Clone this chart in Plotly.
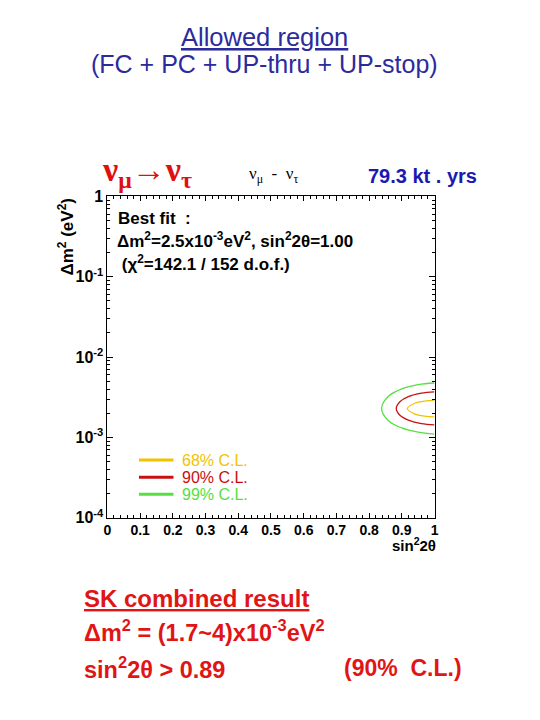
import plotly.graph_objects as go

# ---------------- data ----------------
x_ticks = [0, 0.1, 0.2, 0.3, 0.4, 0.5, 0.6, 0.7, 0.8, 0.9, 1]
x_ticktext = ["0", "0.1", "0.2", "0.3", "0.4", "0.5", "0.6", "0.7", "0.8", "0.9", "1"]
y_ticks = [1e-4, 1e-3, 1e-2, 1e-1, 1]
y_ticktext = ["10<sup>-4</sup>", "10<sup>-3</sup>", "10<sup>-2</sup>", "10<sup>-1</sup>", "1"]

# contours (sin^2 2theta, dm^2)
c99_x = [1.0, 0.95, 0.90, 0.86, 0.838, 0.86, 0.90, 0.95, 1.0]
c99_y = [4.75e-3, 4.54e-3, 4.02e-3, 3.27e-3, 2.29e-3, 1.60e-3, 1.31e-3, 1.16e-3, 1.10e-3]
c90_x = [1.0, 0.96, 0.92, 0.895, 0.883, 0.895, 0.92, 0.96, 1.0]
c90_y = [3.68e-3, 3.55e-3, 3.21e-3, 2.80e-3, 2.29e-3, 1.87e-3, 1.64e-3, 1.48e-3, 1.43e-3]
c68_x = [1.0, 0.97, 0.94, 0.917, 0.94, 0.97, 1.0]
c68_y = [2.88e-3, 2.82e-3, 2.66e-3, 2.28e-3, 1.95e-3, 1.84e-3, 1.80e-3]

legend_labels = ["68% C.L.", "90% C.L.", "99% C.L."]

YEL = "#f2c200"
RED = "#c81010"
GRN = "#55e040"
FONT = "Liberation Sans, Arial, sans-serif"

fig = go.Figure()
for xs, ys, col in [(c99_x, c99_y, GRN), (c90_x, c90_y, RED), (c68_x, c68_y, YEL)]:
    fig.add_trace(go.Scatter(x=xs, y=ys, mode="lines", line=dict(color=col, width=1.3, shape="spline"),
                             showlegend=False, hoverinfo="skip"))

W, H = 540, 720
def px(x):
    return x / W
def py(y):
    return 1 - y / H

L, R, T, B = 105, 437, 193, 522

fig.update_layout(
    width=W, height=H,
    margin=dict(l=0, r=0, t=0, b=0),
    paper_bgcolor="white", plot_bgcolor="white",
    showlegend=False,
    font=dict(family=FONT, color="black"),
    xaxis=dict(domain=[px(L), px(R)], range=[0, 1], tickmode="array", tickvals=x_ticks,
               ticktext=["<b>%s</b>" % t for t in x_ticktext], tickfont=dict(size=14, family=FONT),
               ticks="inside", ticklen=5, tickcolor="black", showline=True, linecolor="black",
               linewidth=1, mirror="ticks", showgrid=False, zeroline=False,
               minor=dict(ticks="inside", ticklen=3, dtick=0.02, tickcolor="black", showgrid=False)),
    yaxis=dict(domain=[py(B), py(T)], type="log", range=[-4, 0], tickmode="array", tickvals=y_ticks,
               ticktext=["<b>%s</b>" % t for t in y_ticktext], tickfont=dict(size=16, family=FONT),
               ticks="inside", ticklen=6, tickcolor="black", showline=True, linecolor="black",
               linewidth=1, mirror="ticks", showgrid=False, zeroline=False,
               minor=dict(ticks="inside", ticklen=3, dtick="D1", tickcolor="black", showgrid=False)),
)

anns = []
def ann(text, x, y, size, color="black", xanchor="left", yanchor="middle", angle=0, family=FONT):
    anns.append(dict(text=text, x=px(x), y=py(y), xref="paper", yref="paper", showarrow=False,
                     xanchor=xanchor, yanchor=yanchor, textangle=angle,
                     font=dict(size=size, color=color, family=family)))

TBLUE = "#2b2b9c"
ann("<u>Allowed region</u>", 264, 30, 25.5, TBLUE, xanchor="center")
ann("(FC + PC + UP-thru + UP-stop)", 264, 57, 25, TBLUE, xanchor="center")

ann("<b>ν<sub>μ</sub>→ν<sub>τ</sub></b>", 97, 168, 34, "#e01010", family="Liberation Serif, Times New Roman, serif")
ann("ν<sub>μ</sub>  -  ν<sub>τ</sub>", 247, 171, 17, "black", family="Liberation Serif, Times New Roman, serif")
ann("<b>79.3 kt . yrs</b>", 367, 172, 20, "#1a1ab0")

ann("<b>Δm<sup>2</sup> (eV<sup>2</sup>)</b>", 63, 235, 17, "black", xanchor="center", angle=-90)
ann("<b>sin<sup>2</sup>2θ</b>", 416, 549, 15, "black", xanchor="center")

ann("<b>Best fit  :</b>", 114, 216, 17)
ann("<b>Δm<sup>2</sup>=2.5x10<sup>-3</sup>eV<sup>2</sup>, sin<sup>2</sup>2θ=1.00</b>", 113, 238, 17)
ann("<b> (χ<sup>2</sup>=142.1 / 152 d.o.f.)</b>", 113, 261, 17)

shapes = []
for i, (lab, col) in enumerate(zip(legend_labels, [YEL, RED, GRN])):
    yy = 463 + i * 17.5
    shapes.append(dict(type="line", xref="paper", yref="paper", x0=px(137), x1=px(172),
                       y0=py(yy), y1=py(yy), line=dict(color=col, width=3)))
    ann(lab, 179, yy, 16, col)

BRED = "#e01515"
ann("<b><u>SK combined result</u></b>", 79, 605, 24, BRED)
ann("<b>Δm<sup>2</sup> = (1.7~4)x10<sup>-3</sup>eV<sup>2</sup></b>", 79, 638, 23.5, BRED)
ann("<b>sin<sup>2</sup>2θ > 0.89</b>", 79, 676, 23.5, BRED)
ann("<b>(90%  C.L.)</b>", 343, 676, 23, BRED)

fig.update_layout(annotations=anns, shapes=shapes)
fig.write_html("out.html", config={"displayModeBar": False},
               post_script="document.body.style.margin='0';document.body.style.overflow='hidden';")
